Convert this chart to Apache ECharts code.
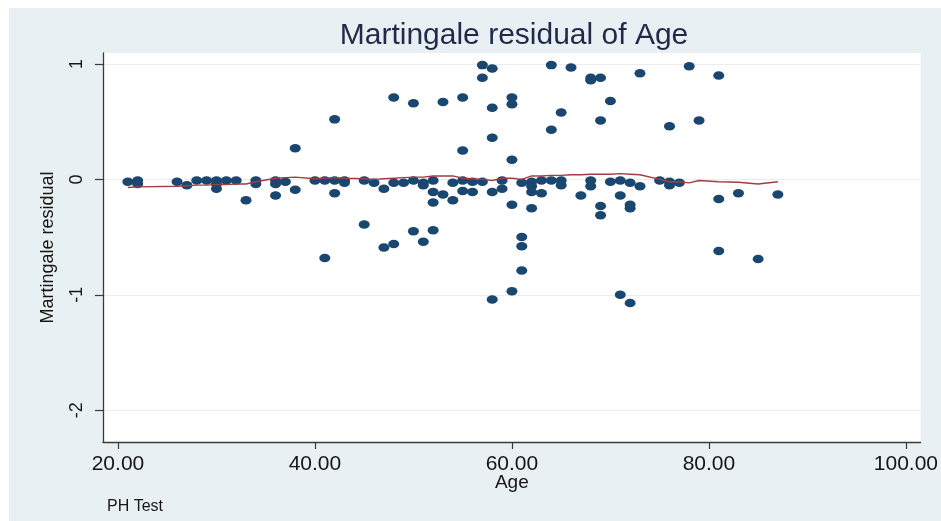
<!DOCTYPE html>
<html>
<head>
<meta charset="utf-8">
<title>Martingale residual of Age</title>
<script src="https://cdn.jsdelivr.net/npm/echarts@6/dist/echarts.min.js"></script>
<style>
  html, body { margin: 0; padding: 0; background: #ffffff; }
  #chart { width: 941px; height: 521px; }
</style>
</head>
<body>
<div id="chart"></div>
<script>
// Observed martingale residuals, one entry per subject
const age = [
  21, 22, 22, 26, 27, 28, 29, 30, 30, 30, 31, 32, 33, 34, 34,
  36, 36, 36, 37, 38, 38, 40, 41, 41, 42, 42, 42, 43, 43, 45, 45,
  46, 47, 47, 48, 48, 48, 49, 50, 50, 50, 51, 51, 51,
  52, 52, 52, 52, 53, 53, 54, 54, 55, 55, 55, 55, 56, 56,
  57, 57, 57, 58, 58, 58, 58, 58, 59, 59, 60, 60, 60, 60, 60,
  61, 61, 61, 61, 62, 62, 62, 62, 63, 63, 64, 64, 64, 65, 65, 65,
  66, 67, 68, 68, 68, 68, 69, 69, 69, 69, 70, 70, 71, 71, 71,
  72, 72, 72, 72, 73, 73, 75, 76, 76, 76, 77, 78, 79, 81, 81, 81,
  83, 85, 87
];
const residual = [
  -0.02, -0.01, -0.04, -0.02, -0.05, -0.01, -0.01, -0.01, -0.04, -0.08, -0.01, -0.01, -0.18, -0.01, -0.04,
  -0.01, -0.04, -0.14, -0.02, 0.27, -0.09, -0.01, -0.01, -0.68, 0.52, -0.01, -0.12, -0.01, -0.03, -0.01, -0.39,
  -0.03, -0.08, -0.59, 0.71, -0.03, -0.56, -0.03, 0.66, -0.01, -0.45, -0.03, -0.05, -0.54,
  -0.01, -0.11, -0.20, -0.44, 0.67, -0.13, -0.03, -0.18, 0.71, 0.25, -0.01, -0.10, -0.02, -0.11,
  0.99, 0.88, -0.02, 0.96, 0.62, 0.36, -0.11, -1.04, -0.01, -0.08, 0.71, 0.65, 0.17, -0.22, -0.97,
  -0.03, -0.50, -0.58, -0.79, -0.02, -0.06, -0.11, -0.25, -0.01, -0.12, 0.99, 0.43, -0.01, 0.58, -0.01, -0.05,
  0.97, -0.14, 0.88, 0.86, -0.01, -0.06, 0.88, 0.51, -0.23, -0.31, 0.68, -0.02, -0.01, -0.14, -1.00,
  -0.03, -0.22, -0.25, -1.07, 0.92, -0.06, -0.01, 0.46, -0.02, -0.05, -0.03, 0.98, 0.51, 0.90, -0.17, -0.62,
  -0.12, -0.69, -0.13
];

// Lowess smooth of the residuals, evaluated at each distinct age
const lowessAge = [
  21, 22, 26, 27, 28, 29, 30, 31, 32, 33, 34, 36, 37, 38, 40, 41, 42, 43, 45, 46,
  47, 48, 49, 50, 51, 52, 53, 54, 55, 56, 57, 58, 59, 60, 61, 62, 63, 64, 65, 66,
  67, 68, 69, 70, 71, 72, 73, 75, 76, 77, 78, 79, 81, 83, 85, 87
];
const lowessFit = [
  -0.07, -0.065, -0.06, -0.055, -0.05, -0.05, -0.045, -0.045, -0.04, -0.04, -0.02, 0.01, 0.015, 0.02, 0.005, 0.01, 0.015, 0.01, 0.005, 0.0,
  0.005, 0.01, 0.015, 0.02, 0.02, 0.03, 0.03, 0.03, 0.01, 0.005, 0.0, -0.01, 0.01, 0.01, 0.0, 0.03, 0.03, 0.035, 0.035, 0.04,
  0.04, 0.045, 0.045, 0.045, 0.05, 0.045, 0.04, 0.0, -0.02, -0.02, -0.03, -0.01, -0.02, -0.025, -0.04, -0.02
];

// Axis ticks
const xTicks = [20, 40, 60, 80, 100];
const yTicks = [-2, -1, 0, 1];

const chart = echarts.init(document.getElementById('chart'), null, { renderer: 'canvas' });

const FONT = '"Liberation Sans", Arial, Helvetica, sans-serif';
const AXIS_COLOR = '#3a3a3a';
const TEXT_COLOR = '#161616';

chart.setOption({
  animation: false,
  backgroundColor: '#ffffff',
  textStyle: { fontFamily: FONT },
  graphic: [
    {
      type: 'rect', z: -10, silent: true,
      shape: { x: 9, y: 8, width: 932, height: 513 },
      style: { fill: '#e9f0f3' }
    },
    {
      type: 'text', z: 10, silent: true,
      x: 514, y: 36,
      style: {
        text: 'Martingale residual of Age',
        fontFamily: FONT, fontSize: 30,
        fill: '#1f2b48',
        align: 'center', verticalAlign: 'middle'
      }
    },
    {
      type: 'text', z: 10, silent: true,
      x: 107, y: 507,
      style: {
        text: 'PH Test',
        fontFamily: FONT, fontSize: 16,
        fill: TEXT_COLOR,
        align: 'left', verticalAlign: 'middle'
      }
    }
  ],
  grid: {
    left: 103, top: 53, right: 14, bottom: 79,
    show: true, backgroundColor: '#ffffff', borderWidth: 0
  },
  xAxis: {
    type: 'value',
    min: 18.48, max: 101.5,
    name: 'Age',
    nameLocation: 'middle',
    nameGap: 31,
    nameMoveOverlap: false,
    nameTextStyle: { fontFamily: FONT, fontSize: 19, color: TEXT_COLOR },
    axisLine: { show: true, onZero: false, lineStyle: { color: AXIS_COLOR, width: 1.3 } },
    axisTick: { show: true, customValues: xTicks, length: 7, lineStyle: { color: AXIS_COLOR, width: 1.2 } },
    axisLabel: {
      customValues: xTicks,
      margin: 12,
      fontFamily: FONT, fontSize: 21, color: TEXT_COLOR,
      formatter: v => v.toFixed(2)
    },
    splitLine: { show: false }
  },
  yAxis: {
    type: 'value',
    min: -2.275, max: 1.095,
    name: 'Martingale residual',
    nameLocation: 'middle',
    nameRotate: 90,
    nameGap: 46,
    nameMoveOverlap: false,
    nameTextStyle: { fontFamily: FONT, fontSize: 18, color: TEXT_COLOR },
    axisLine: { show: true, onZero: false, lineStyle: { color: AXIS_COLOR, width: 1.3 } },
    axisTick: { show: true, customValues: yTicks, length: 8, lineStyle: { color: AXIS_COLOR, width: 1.2 } },
    axisLabel: {
      customValues: yTicks,
      rotate: 90,
      margin: 17,
      fontFamily: FONT, fontSize: 18, color: TEXT_COLOR,
      formatter: v => String(v)
    },
    splitLine: { show: true, lineStyle: { color: '#ececec', width: 1.2 } }
  },
  series: [
    {
      type: 'scatter',
      name: 'Martingale residual',
      data: age.map((a, i) => [a, residual[i]]),
      symbol: 'circle',
      symbolSize: [11, 8.5],
      itemStyle: { color: '#1a476f', opacity: 1 },
      z: 2
    },
    {
      type: 'line',
      name: 'lowess',
      data: lowessAge.map((a, i) => [a, lowessFit[i]]),
      showSymbol: false,
      symbol: 'none',
      lineStyle: { color: '#a33c44', width: 1.4 },
      z: 3
    }
  ]
});
</script>
</body>
</html>
